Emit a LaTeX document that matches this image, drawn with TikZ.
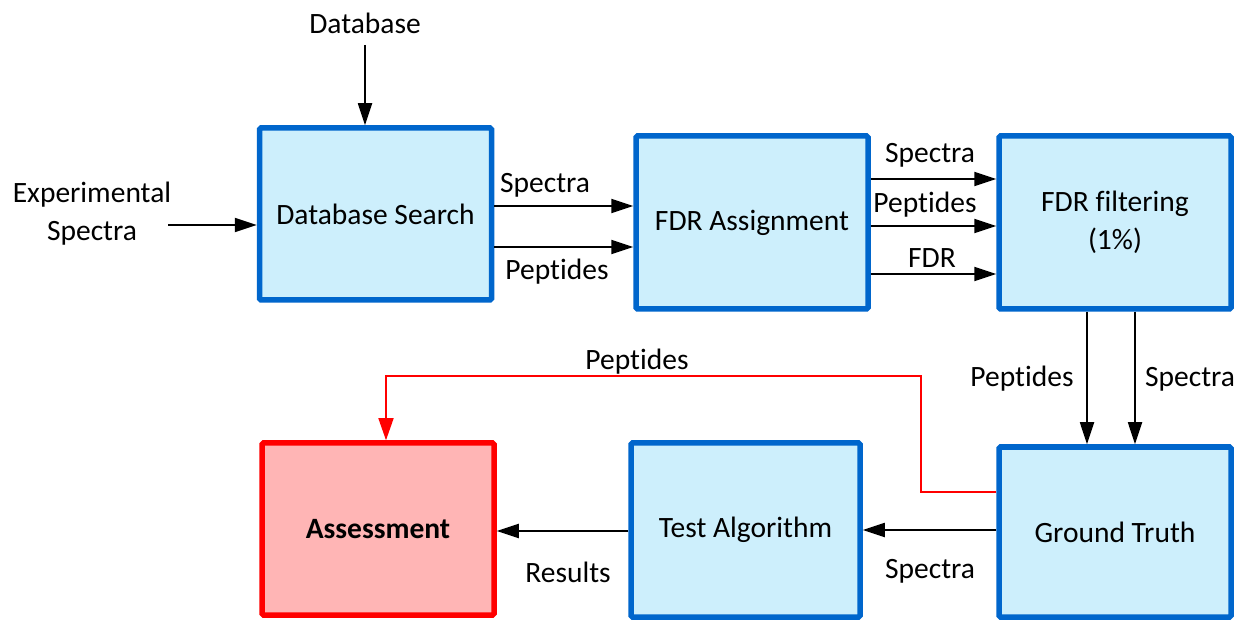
\documentclass[tikz,border=0pt]{standalone}
\usepackage{fontspec}
\setmainfont{Carlito}[Ligatures=NoCommon]
\usetikzlibrary{arrows.meta}
\definecolor{boxblue}{RGB}{0,102,204}
\definecolor{boxfill}{RGB}{205,239,252}
\definecolor{assessred}{RGB}{255,0,0}
\definecolor{assessfill}{RGB}{255,181,181}
\begin{document}
\begin{tikzpicture}[x=1pt,y=-1pt,
  font=\fontsize{29.5}{38}\selectfont,
  proc/.style={draw=boxblue, fill=boxfill, line width=5.5pt, rounded corners=1.5pt,
    minimum width=232pt, minimum height=172pt, inner sep=0pt, align=center},
  assess/.style={proc, draw=assessred, fill=assessfill, font=\fontsize{29.5}{38}\selectfont\bfseries},
  flow/.style={draw=black, line width=1.8pt, -{Triangle[length=22pt,width=14pt]}},
  feedback/.style={draw=assessred, line width=1.5pt, -{Triangle[length=22pt,width=15pt]}},
  lbl/.style={inner sep=0pt, align=center}]
\useasboundingbox (0,0) rectangle (1254,620);

% process boxes
\node[proc] (ds) at (375.5,214) {Database Search};
\node[proc, minimum height=173pt] (fa) at (752,222.5) {FDR Assignment};
\node[proc, minimum height=173pt] (ff) at (1115,222.5) {FDR filtering\\(1\%)};
\node[proc, minimum height=170pt] (gt) at (1115,532) {Ground Truth};
\node[proc, minimum width=229pt, minimum height=174pt] (ta) at (745.5,530) {Test Algorithm};
\node[assess] (as) at (378,529) {Assessment};

% inputs
\node[lbl] (db) at (365,23) {Database};
\node[lbl] (es) at (92,214) {Experimental\\Spectra};
\coordinate (dbtail) at (365,45);
\coordinate (estail) at (168,225);
\draw[flow] (dbtail) -- (dbtail |- ds.north);
\draw[flow] (estail) -- (estail -| ds.west);

% search -> FDR assignment
\draw[flow] (ds.east |- 0,206) -- (fa.west |- 0,206);
\draw[flow] (ds.east |- 0,247) -- (fa.west |- 0,247);
\node[lbl] (l1) at (545,185) {Spectra};
\node[lbl] (l2) at (557,272) {Peptides};

% FDR assignment -> FDR filtering
\draw[flow] (fa.east |- 0,179) -- (ff.west |- 0,179);
\draw[flow] (fa.east |- 0,226) -- (ff.west |- 0,226);
\draw[flow] (fa.east |- 0,274) -- (ff.west |- 0,274);
\node[lbl] (l3) at (930,155) {Spectra};
\node[lbl] (l4) at (925,205) {Peptides};
\node[lbl] (l5) at (932,258) {FDR};

% FDR filtering -> ground truth
\draw[flow] (ff.south -| 1087,0) -- (gt.north -| 1087,0);
\draw[flow] (ff.south -| 1135,0) -- (gt.north -| 1135,0);
\node[lbl] (l6) at (1022,379) {Peptides};
\node[lbl] (l7) at (1190,379) {Spectra};

% ground truth -> test algorithm -> assessment
\draw[flow] (gt.west |- 0,530) -- (ta.east |- 0,530);
\draw[flow] (ta.west |- 0,531) -- (as.east |- 0,531);
\node[lbl] (l8) at (930,571) {Spectra};
\node[lbl] (l9) at (568,572) {Results};

% peptide feedback to assessment
\coordinate (r1) at (921,492);
\coordinate (r2) at (921,376);
\coordinate (r3) at (386,376);
\draw[feedback] (gt.west |- r1) -- (r1) -- (r2) -- (r3) -- (r3 |- as.north);
\node[lbl] (l10) at (637,362) {Peptides};
\end{tikzpicture}
\end{document}
